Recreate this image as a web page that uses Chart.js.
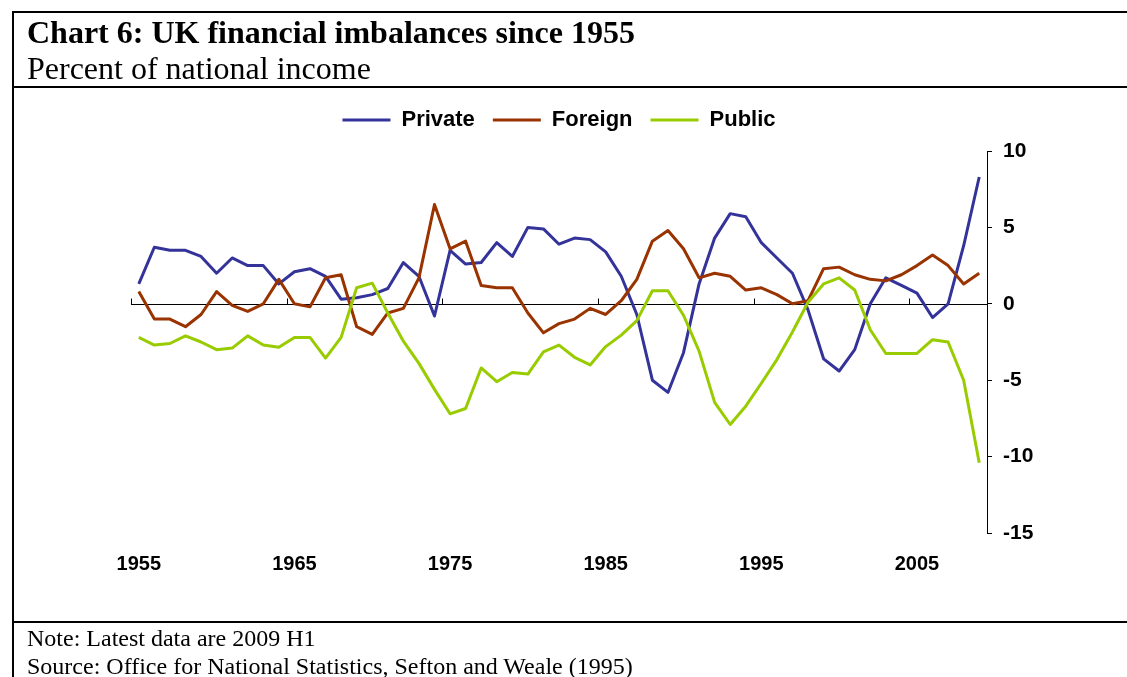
<!DOCTYPE html>
<html>
<head>
<meta charset="utf-8">
<script src="https://cdn.jsdelivr.net/npm/chart.js@4"></script>
<style>
  body { margin: 0; background: #fff; }
  #wrap { position: relative; width: 1127px; height: 677px; overflow: hidden; }
  canvas { position: absolute; left: 0; top: 0; }
  .txt { position: absolute; left: 27px; font-family: "Liberation Serif", "Times New Roman", serif; color: #000; white-space: nowrap; }
  .rule { position: absolute; background: #000; }
</style>
</head>
<body>
<div id="wrap">
  <canvas id="chart" width="1127" height="677"></canvas>
  <div class="rule" style="left:12px; top:11px; width:1115px; height:2px;"></div>
  <div class="rule" style="left:12px; top:11px; width:2px; height:666px;"></div>
  <div class="rule" style="left:12px; top:86px; width:1115px; height:2px;"></div>
  <div class="rule" style="left:12px; top:621px; width:1115px; height:2px;"></div>
  <div class="txt" style="top:16px; font-size:32px; line-height:32px; font-weight:bold;">Chart 6: UK financial imbalances since 1955</div>
  <div class="txt" style="top:52px; font-size:32px; line-height:32px;">Percent of national income</div>
  <div class="txt" style="top:626px; font-size:24px; line-height:24px;">Note: Latest data are 2009 H1</div>
  <div class="txt" style="top:654px; font-size:24px; line-height:24px;">Source: Office for National Statistics, Sefton and Weale (1995)</div>
</div>
<script>
const years = [
  1955, 1956, 1957, 1958, 1959, 1960, 1961, 1962, 1963, 1964,
  1965, 1966, 1967, 1968, 1969, 1970, 1971, 1972, 1973, 1974,
  1975, 1976, 1977, 1978, 1979, 1980, 1981, 1982, 1983, 1984,
  1985, 1986, 1987, 1988, 1989, 1990, 1991, 1992, 1993, 1994,
  1995, 1996, 1997, 1998, 1999, 2000, 2001, 2002, 2003, 2004,
  2005, 2006, 2007, 2008, 2009
];

const privateBalance = [
  1.3, 3.7, 3.5, 3.5, 3.1, 2.0, 3.0, 2.5, 2.5, 1.3,
  2.1, 2.3, 1.8, 0.3, 0.4, 0.6, 1.0, 2.7, 1.8, -0.8,
  3.5, 2.6, 2.7, 4.0, 3.1, 5.0, 4.9, 3.9, 4.3, 4.2,
  3.4, 1.8, -0.7, -5.0, -5.8, -3.2, 1.3, 4.3, 5.9, 5.7,
  4.0, 3.0, 2.0, -0.4, -3.6, -4.4, -3.0, 0.0, 1.7, 1.2,
  0.7, -0.9, 0.0, 3.8, 8.3
];

const foreignBalance = [
  0.8, -1.0, -1.0, -1.5, -0.7, 0.8, -0.1, -0.5, 0.0, 1.6,
  0.0, -0.2, 1.7, 1.9, -1.5, -2.0, -0.6, -0.3, 1.7, 6.5,
  3.6, 4.1, 1.2, 1.05, 1.05, -0.6, -1.9, -1.3, -1.0, -0.3,
  -0.7, 0.2, 1.6, 4.1, 4.8, 3.6, 1.7, 2.0, 1.8, 0.9,
  1.05, 0.6, 0.0, 0.2, 2.3, 2.4, 1.9, 1.6, 1.5, 1.9,
  2.5, 3.2, 2.5, 1.3, 2.0
];

const publicBalance = [
  -2.2, -2.7, -2.6, -2.1, -2.5, -3.0, -2.9, -2.1, -2.7, -2.85,
  -2.2, -2.2, -3.55, -2.2, 1.05, 1.35, -0.6, -2.45, -3.9, -5.6,
  -7.2, -6.85, -4.2, -5.1, -4.5, -4.6, -3.15, -2.7, -3.5, -4.0,
  -2.8, -2.05, -1.1, 0.85, 0.85, -0.75, -3.1, -6.45, -7.9, -6.7,
  -5.2, -3.65, -1.85, 0.1, 1.3, 1.7, 0.9, -1.7, -3.25, -3.25,
  -3.25, -2.35, -2.5, -5.0, -10.4
];

const xTickLabels = ['1955', '1965', '1975', '1985', '1995', '2005'];
const yTicks = [10, 5, 0, -5, -10, -15];

Chart.defaults.font.family = '"Liberation Sans", Arial, sans-serif';
Chart.defaults.color = '#000';

// zero line with small upward ticks at decade boundaries
const zeroLine = {
  id: 'zeroLine',
  beforeDatasetsDraw(chart) {
    const { ctx, chartArea, scales } = chart;
    const y0 = Math.round(scales.y.getPixelForValue(0)) + 0.5;
    const step = scales.x.getPixelForValue(1) - scales.x.getPixelForValue(0);
    ctx.save();
    ctx.strokeStyle = '#000';
    ctx.lineWidth = 1;
    ctx.beginPath();
    ctx.moveTo(chartArea.left, y0);
    ctx.lineTo(chartArea.right, y0);
    years.forEach((yr, i) => {
      if (xTickLabels.includes(String(yr))) {
        const px = Math.round(scales.x.getPixelForValue(i) - step / 2) + 0.5;
        ctx.moveTo(px, y0);
        ctx.lineTo(px, y0 - 6);
      }
    });
    ctx.stroke();
    ctx.restore();
  }
};

// a bit more room between legend and plot
const legendGap = {
  id: 'legendGap',
  afterInit(chart) {
    const fit = chart.legend.fit;
    chart.legend.fit = function () {
      fit.call(this);
      this.height += 10;
    };
  }
};

new Chart(document.getElementById('chart'), {
  type: 'line',
  data: {
    labels: years.map(String),
    datasets: [
      { label: 'Private', data: privateBalance, borderColor: '#333399', borderWidth: 3, order: 3 },
      { label: 'Foreign', data: foreignBalance, borderColor: '#993300', borderWidth: 3, order: 2 },
      { label: 'Public', data: publicBalance, borderColor: '#99CC00', borderWidth: 3, order: 1 }
    ]
  },
  options: {
    responsive: false,
    animation: false,
    elements: {
      line: { tension: 0, borderJoinStyle: 'round', fill: false },
      point: { radius: 0, hoverRadius: 0 }
    },
    layout: {
      padding: { left: 131, right: 80, top: 91, bottom: 94 }
    },
    scales: {
      x: {
        type: 'category',
        offset: true,
        grid: { display: false },
        border: { display: false },
        ticks: {
          autoSkip: false,
          maxRotation: 0,
          padding: 11,
          font: { size: 20, weight: 'bold' },
          callback: function (value) {
            const lab = this.getLabelForValue(value);
            return xTickLabels.includes(lab) ? lab : null;
          }
        },
        afterFit(scale) { scale.height = 50; }
      },
      y: {
        position: 'right',
        min: yTicks[yTicks.length - 1],
        max: yTicks[0],
        grid: { drawOnChartArea: false, color: '#000', tickLength: 5 },
        border: { display: true, color: '#000', width: 1 },
        ticks: {
          stepSize: 5,
          padding: 11,
          font: { size: 21, weight: 'bold' },
          callback: (v) => (yTicks.includes(v) ? v : null)
        },
        afterFit(scale) { scale.width = 60; }
      }
    },
    plugins: {
      legend: {
        position: 'top',
        fullSize: false,
        labels: {
          usePointStyle: true,
          pointStyle: 'line',
          pointStyleWidth: 48,
          padding: 18,
          font: { size: 22, weight: 'bold' },
          sort: (a, b) => a.datasetIndex - b.datasetIndex
        }
      },
      tooltip: { enabled: false }
    }
  },
  plugins: [zeroLine, legendGap]
});
</script>
</body>
</html>
